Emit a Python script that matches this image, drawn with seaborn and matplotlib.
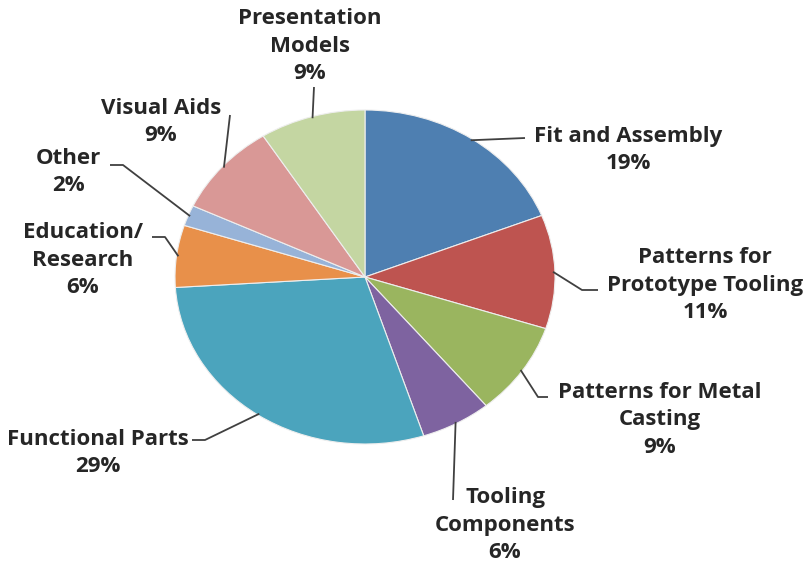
import numpy as np
import matplotlib
matplotlib.use("Agg")
import matplotlib.pyplot as plt
import seaborn as sns

categories = ["Fit and Assembly", "Patterns for\nPrototype Tooling", "Patterns for Metal\nCasting",
              "Tooling\nComponents", "Functional Parts", "Education/\nResearch", "Other",
              "Visual Aids", "Presentation\nModels"]
values = [19, 11, 9, 6, 29, 6, 2, 9, 9]
colors = ["#4E7FB1", "#BE5450", "#9AB55F", "#7E63A0", "#4BA4BD", "#E8904A", "#97B3D8",
          "#D99896", "#C4D6A2"]

sns.set_theme(style="white")
plt.rcParams['font.family'] = ['Open Sans', 'DejaVu Sans']

W, H = 808, 566
fig = plt.figure(figsize=(W / 100, H / 100), dpi=100)
ax = fig.add_axes([0, 0, 1, 1])

# pixel geometry of the (slightly elliptical) pie
CX, CY, RX, RY = 365, 277, 190, 167

wedges, _ = ax.pie(values, colors=sns.color_palette(colors), startangle=90, counterclock=False,
                   radius=1, center=(0, 0), frame=True,
                   wedgeprops=dict(edgecolor="#EEEEEE", linewidth=0.8))
ax.set_aspect("auto")
ax.set_xlim((0 - CX) / RX, (W - CX) / RX)
ax.set_ylim((CY - H) / RY, (CY - 0) / RY)
ax.axis("off")


def P(px, py):
    return ((px - CX) / RX, (CY - py) / RY)


# layout: (leader path points in px after the edge point, text center px)
layout = [
    ([(525, 138)], (628, 150)),
    ([(582, 290), (598, 290)], (705, 285)),
    ([(538, 397), (548, 397)], (660, 420)),
    ([(453, 500)], (505, 525)),
    ([(205, 440), (192, 440)], (98, 453)),
    ([(165, 237), (152, 237)], (83, 260)),
    ([(123, 165), (110, 165)], (68, 172)),
    ([(230, 115)], (161, 122)),
    ([(314, 87)], (310, 46)),
]

for w, cat, val, (pts, tc) in zip(wedges, categories, values, layout):
    mid = np.deg2rad((w.theta1 + w.theta2) / 2)
    ex, ey = 0.99 * np.cos(mid), 0.99 * np.sin(mid)
    xs = [ex] + [P(*p)[0] for p in pts]
    ys = [ey] + [P(*p)[1] for p in pts]
    ax.plot(xs, ys, color="#404040", lw=1.3, solid_capstyle="butt")
    tx, ty = P(*tc)
    ax.text(tx, ty, f"{cat}\n{val}%", ha="center", va="center", fontsize=16,
            fontweight="bold", color="#262626", linespacing=1.4)

fig.savefig("out.png", dpi=100, facecolor="white")
